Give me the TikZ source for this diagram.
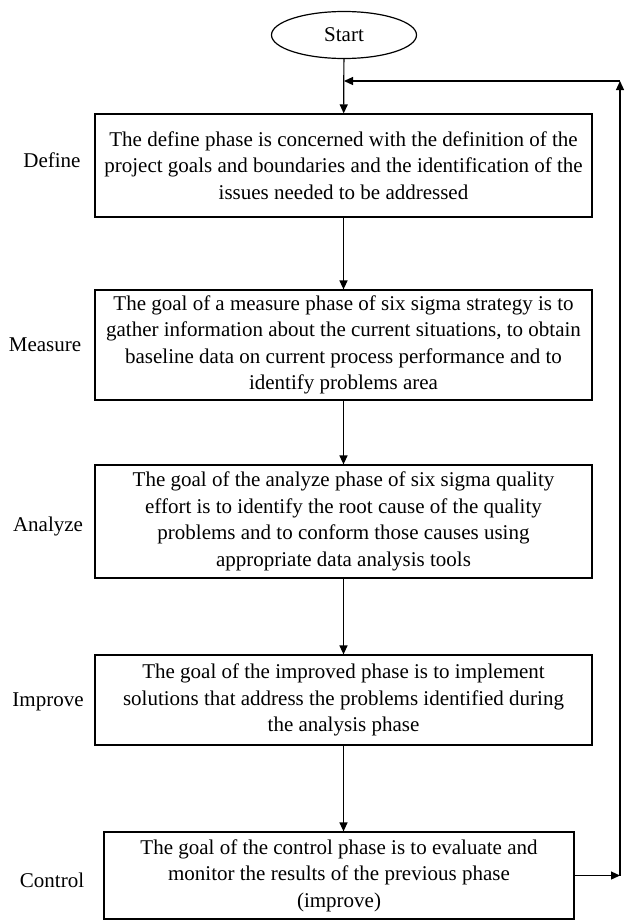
\documentclass[tikz,border=0pt]{standalone}
\usepackage{fontspec}
\setmainfont{Liberation Serif}
\usetikzlibrary{arrows.meta,positioning,shapes.geometric}

\begin{document}
\begin{tikzpicture}[x=1pt, y=-1pt, box/.style={draw, line width=1.2pt, align=center, font=\fontsize{21}{26.5}\selectfont, inner sep=3pt, minimum width=497pt}, lbl/.style={font=\fontsize{21}{25}\selectfont}, arr/.style={line width=1.2pt, -{Triangle[length=9pt,width=8pt]}}]
\useasboundingbox (0,0) rectangle (625,921);
\node[draw, ellipse, line width=1.2pt, minimum width=145pt, minimum height=47pt, font=\fontsize{21}{25}\selectfont] (start) at (344,35) {Start};
\node[box, minimum height=103pt] (define) at (343.5,165.5) {The define phase is concerned with the definition of the\\project goals and boundaries and the identification of the\\issues needed to be addressed};
\node[box, minimum height=110pt] (measure) at (343.5,345) {The goal of a measure phase of six sigma strategy is to\\gather information about the current situations, to obtain\\baseline data on current process performance and to\\identify problems area};
\node[box, minimum height=113pt] (analyze) at (343.5,521.5) {The goal of the analyze phase of six sigma quality\\effort is to identify the root cause of the quality\\problems and to conform those causes using\\appropriate data analysis tools};
\node[box, minimum height=90pt] (improve) at (343.5,700) {The goal of the improved phase is to implement\\solutions that address the problems identified during\\the analysis phase};
\node[box, minimum width=470pt, minimum height=87pt] (control) at (339,875.5) {The goal of the control phase is to evaluate and\\monitor the results of the previous phase\\(improve)};
\node[lbl] (ldefine) at (52,160) {Define};
\node[lbl] (lmeasure) at (45,345) {Measure};
\node[lbl] (lanalyze) at (48,526) {Analyze};
\node[lbl] (limprove) at (48,702) {Improve};
\node[lbl] (lcontrol) at (52,880) {Control};
\coordinate (fbtop) at (620,81);
\coordinate (fbbot) at (control.east -| fbtop);
\coordinate (join) at (start.south |- fbtop);
\draw[arr] (start) -- (define); \draw[arr] (define) -- (measure); \draw[arr] (measure) -- (analyze); \draw[arr] (analyze) -- (improve); \draw[arr] (improve.south) -- (improve.south |- control.north);
\draw[arr] (control.east) -- (fbbot); \draw[arr] (fbbot) -- (fbtop); \draw[arr] (fbtop) -- (join);
\end{tikzpicture}
\end{document}
